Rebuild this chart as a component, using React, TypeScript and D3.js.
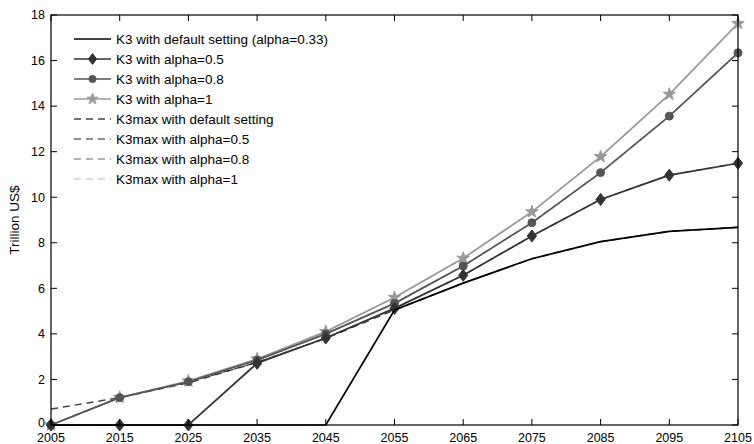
import React from "react";
import * as d3 from "d3";

// Years on the horizontal axis
const years = [2005, 2015, 2025, 2035, 2045, 2055, 2065, 2075, 2085, 2095, 2105];

// K3 series (trillion US$)
const k3Default = [0, 0, 0, 0, 0, 5.05, 6.23, 7.3, 8.05, 8.5, 8.68];
const k3Alpha05 = [0, 0, 0, 2.71, 3.82, 5.12, 6.57, 8.3, 9.9, 10.97, 11.49];
const k3Alpha08 = [0, 1.2, 1.9, 2.85, 4.0, 5.34, 6.98, 8.88, 11.08, 13.56, 16.34];
const k3Alpha1 = [0, 1.21, 1.93, 2.9, 4.1, 5.6, 7.32, 9.36, 11.78, 14.52, 17.63];

// K3max series (trillion US$)
const k3maxDefault = [0.7, 1.2, 1.85, 2.75, 3.8, 5.05, 6.23, 7.3, 8.05, 8.5, 8.68];
const k3maxAlpha05 = [0, 1.2, 1.88, 2.75, 3.82, 5.12, 6.57, 8.3, 9.9, 10.97, 11.49];
const k3maxAlpha08 = [0, 1.2, 1.9, 2.85, 4.0, 5.34, 6.98, 8.88, 11.08, 13.56, 16.34];
const k3maxAlpha1 = [0, 1.21, 1.93, 2.9, 4.1, 5.6, 7.32, 9.36, 11.78, 14.52, 17.63];

const xTicks = years;
const yTicks = [0, 2, 4, 6, 8, 10, 12, 14, 16, 18];

type Series = {
  name: string;
  values: number[];
  color: string;
  width: number;
  dash?: string;
  marker?: "diamond" | "circle" | "star";
};

const solidSeries: Series[] = [
  { name: "K3 with default setting (alpha=0.33)", values: k3Default, color: "#000000", width: 1.7 },
  { name: "K3 with alpha=0.5", values: k3Alpha05, color: "#333333", width: 1.7, marker: "diamond" },
  { name: "K3 with alpha=0.8", values: k3Alpha08, color: "#555555", width: 1.7, marker: "circle" },
  { name: "K3 with alpha=1", values: k3Alpha1, color: "#999999", width: 1.7, marker: "star" },
];

const dashedSeries: Series[] = [
  { name: "K3max with default setting", values: k3maxDefault, color: "#444444", width: 1.5, dash: "7,5" },
  { name: "K3max with alpha=0.5", values: k3maxAlpha05, color: "#222222", width: 1.1, dash: "7,5" },
  { name: "K3max with alpha=0.8", values: k3maxAlpha08, color: "#999999", width: 1.3, dash: "7,5" },
  { name: "K3max with alpha=1", values: k3maxAlpha1, color: "#bbbbbb", width: 1.1, dash: "7,5" },
];

const W = 754;
const H = 444;
const left = 51;
const right = 738;
const top = 15;
const bottom = 425;

const FONT = "'Liberation Sans', Arial, Helvetica, sans-serif";

function markerPath(kind: string | undefined, scale = 1): string | null {
  if (kind === "diamond") {
    const p = d3.path();
    p.moveTo(0, -6 * scale);
    p.lineTo(4.6 * scale, 0);
    p.lineTo(0, 6 * scale);
    p.lineTo(-4.6 * scale, 0);
    p.closePath();
    return p.toString();
  }
  if (kind === "circle") return d3.symbol().type(d3.symbolCircle).size(50 * scale * scale)();
  if (kind === "star") return d3.symbol().type(d3.symbolStar).size(48 * scale * scale)();
  return null;
}

export default function App() {
  const x = d3.scaleLinear().domain([2005, 2105]).range([left, right]);
  const y = d3.scaleLinear().domain([0, 18]).range([bottom, top]);
  const line = d3
    .line<number>()
    .x((_, i) => x(years[i]))
    .y((v) => y(v));

  const legendRows = [...solidSeries, ...dashedSeries];
  const tickLen = 6;

  return (
    <svg
      width={W}
      height={H}
      style={{ position: "absolute", left: 0, top: 0, background: "#fff" }}
      fontFamily={FONT}
    >
      <rect x={0} y={0} width={W} height={H} fill="#fff" />

      {/* dashed K3max lines sit underneath */}
      {dashedSeries.map((s) => (
        <path
          key={s.name}
          d={line(s.values) || ""}
          fill="none"
          stroke={s.color}
          strokeWidth={s.width}
          strokeDasharray={s.dash}
        />
      ))}

      {/* solid K3 lines, lightest drawn first */}
      {[...solidSeries].reverse().map((s) => {
        const mp = markerPath(s.marker);
        return (
          <g key={s.name}>
            <path d={line(s.values) || ""} fill="none" stroke={s.color} strokeWidth={s.width} />
            {mp &&
              s.values.map((v, i) => (
                <path
                  key={i}
                  d={mp}
                  transform={`translate(${x(years[i])},${y(v)})`}
                  fill={s.color}
                  stroke={s.color}
                  strokeWidth={1}
                />
              ))}
          </g>
        );
      })}

      {/* axes box */}
      <rect x={left} y={top} width={right - left} height={bottom - top} fill="none" stroke="#000" strokeWidth={1.2} />

      {xTicks.map((t) => (
        <g key={t}>
          <line x1={x(t)} x2={x(t)} y1={bottom} y2={bottom - tickLen} stroke="#000" strokeWidth={1} />
          <line x1={x(t)} x2={x(t)} y1={top} y2={top + tickLen} stroke="#000" strokeWidth={1} />
          <text x={x(t)} y={442} textAnchor="middle" fontSize={12.5} fill="#000">
            {t}
          </text>
        </g>
      ))}

      {yTicks.map((t) => (
        <g key={t}>
          <line x1={left} x2={left + tickLen} y1={y(t)} y2={y(t)} stroke="#000" strokeWidth={1} />
          <line x1={right} x2={right - tickLen} y1={y(t)} y2={y(t)} stroke="#000" strokeWidth={1} />
          <text x={45} y={t === 0 ? y(t) - 2 : y(t)} dy="0.35em" textAnchor="end" fontSize={12.5} fill="#000">
            {t}
          </text>
        </g>
      ))}

      <text
        transform={`translate(19,${(top + bottom) / 2}) rotate(-90)`}
        textAnchor="middle"
        fontSize={13.5}
        fill="#000"
      >
        Trillion US$
      </text>

      {/* legend */}
      {legendRows.map((s, i) => {
        const ly = 39 + i * 20;
        const mp = markerPath(s.marker, 0.9);
        return (
          <g key={s.name}>
            <line
              x1={74}
              x2={111}
              y1={ly}
              y2={ly}
              stroke={s.color}
              strokeWidth={s.width}
              strokeDasharray={s.dash}
            />
            {mp && <path d={mp} transform={`translate(92.5,${ly})`} fill={s.color} stroke={s.color} />}
            <text x={116} y={ly} dy="0.35em" fontSize={13.5} fill="#000">
              {s.name}
            </text>
          </g>
        );
      })}
    </svg>
  );
}
